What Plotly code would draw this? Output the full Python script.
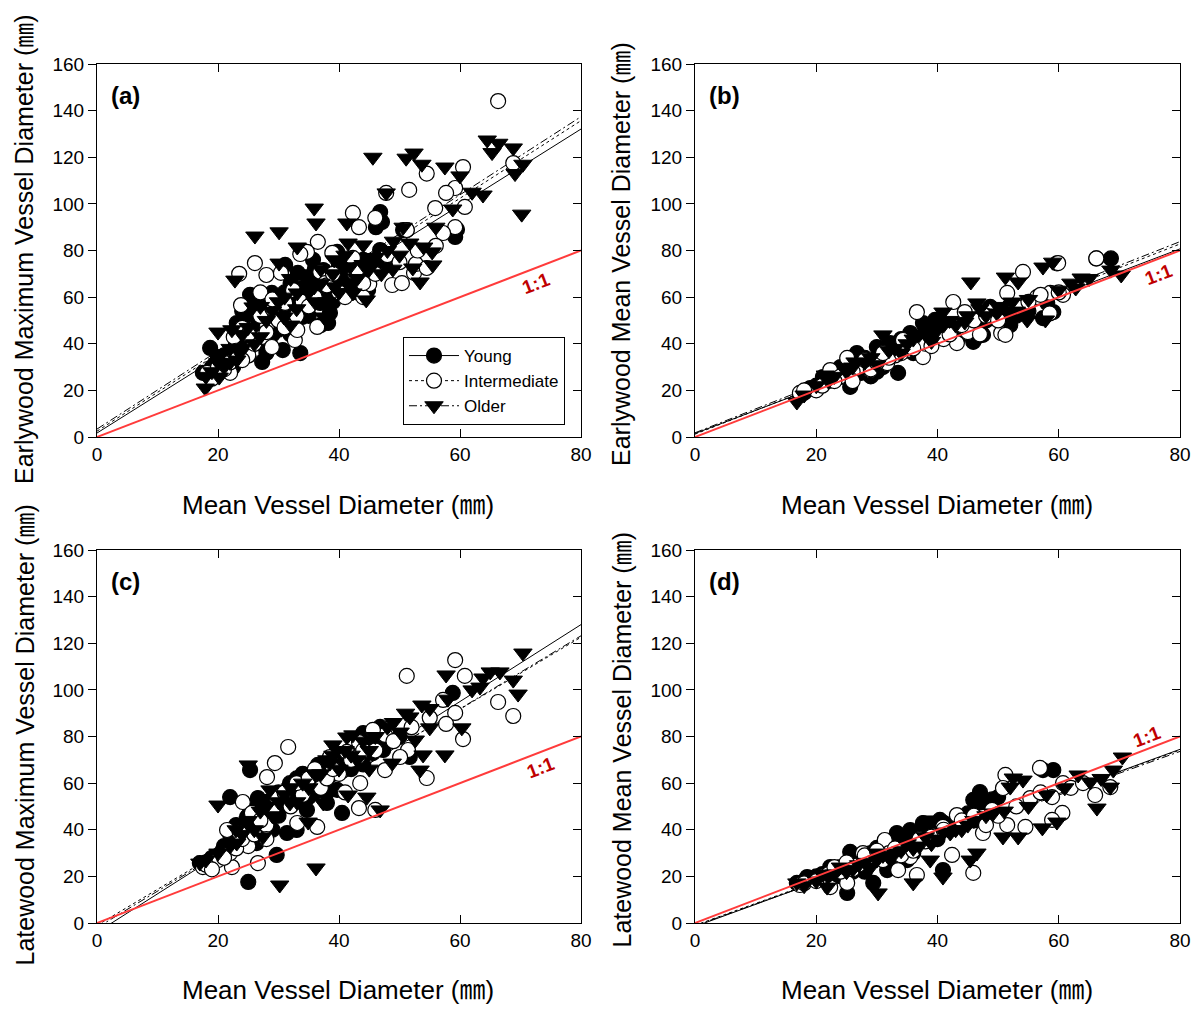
import plotly.graph_objects as go

# ---------------- DATA (mean vessel diameter, panel y-value) ----------------
groups = ["Young", "Intermediate", "Older"]
panel_ids = ["a", "b", "c", "d"]
panel_labels = ["(a)", "(b)", "(c)", "(d)"]
y_titles = [
    "Earlywood Maximum Vessel Diameter (㎜)",
    "Earlywood Mean Vessel Diameter (㎜)",
    "Latewood Maximum Vessel Diameter (㎜)",
    "Latewood Mean Vessel Diameter (㎜)",
]
x_title = "Mean Vessel Diameter (㎜)"
x_ticks = [0, 20, 40, 60, 80]
y_ticks = [0, 20, 40, 60, 80, 100, 120, 140, 160]

a_young = [(46.8,96.5),(47.1,92.2),(46.1,90),(59.2,85.8),(59.5,89),(50.6,88.8),(51.2,88.8),(46.8,80.2),
           (47.3,76),(45.5,73),(31.1,73.8),(35.7,76),(39.7,79.4),(37.4,71.6),(33.2,70.4),(35.2,61.8),
           (38.5,53.2),(38.2,48.9),(33.9,51.5),(30.7,37.3),(33.6,36),(27.3,32.2),(24,49.8),(25.3,61),
           (28.9,61.8),(31.4,53.2),(29.1,47.2),(24.8,45.9),(23.1,48.9),(18.7,38.2),(20,34.3),(22.5,30),
           (21.5,28.7),(17.5,27.5),(25.3,38.6),(31.9,58.8),(34.7,57.5),(36.9,57.5),(43.5,70.4),(44.8,63),
           (41.3,72.5),(26,52),(28,56),(30,60),(32,54),(34,64),(36,66),(29,44),(27,40),(25,35),(23,40),
           (21,35),(33,58),(38,62),(40,68),(42,64),(44,76),(48,74),(37,48),(39,66),
           (19,30),(20,28),(21,32),(22,36),(23,34),(24,42),(25,44),(26,46),(27,48),(28,52),(29,58),(30,54),
           (31,62),(32,66),(33,62),(34,56),(35,68),(36,72),(37,64),(38,70),(39,58),(40,74),(41,66),(42,70),
           (43,62),(45,68),(46,76),(28,36),(30,46),(32,44),(26,58),(24,54),(35,52),(37,60)]
a_inter = [(66.3,144.1),(60.5,115.8),(54.5,113),(68.8,117.5),(47.8,104.7),(51.6,106),(59.2,106.8),
           (57.7,104.7),(60.8,98.7),(55.9,98.2),(59.2,90),(57.2,87.5),(42.3,96.1),(43.3,90),(46,94),
           (51.2,88.8),(36.5,83.7),(34.7,79.4),(42.3,76.8),(38.9,79),(26.1,74.6),(23.5,70),(28,69.5),
           (30.4,70.4),(36.9,70.8),(37.7,66),(42.6,70.4),(45,65.6),(48.8,65.2),(50.4,66),(52.4,70.4),
           (52.7,74.2),(54.5,72.5),(33.6,78.5),(23.8,56.6),(22.6,42.9),(27.3,42.9),(28.9,38.6),(32.7,41.6),
           (36.4,47.2),(33.1,45.9),(18.2,27.5),(22,27.5),(24,46.8),(31.1,57.5),(32.4,63),(28.1,48),(20,30),
           (22,32),(25,35),(27,52),(29,55),(34,58),(40,62),(44,60),
           (19,25),(21,29),(23,37),(24,33),(26,40),(28,45),(30,50),(31,47),(33,52),(35,56),(36,60),(38,65),
           (39,70),(41,60),(43,72),(44,66),(46,70),(48,78),(50,75),(53,80),(56,82),(27,62),(25,44),(29,59)]
a_older = [(64.5,127.4),(66.4,126),(65.3,122),(68.8,124),(70.4,117),(69.1,113),(70.2,95.6),(63.8,103.8),
           (45.6,120),(51.1,119.6),(52.4,121.8),(53.7,117),(57.5,115.8),(60,112),(47.8,104.7),(58.8,97.8),
           (35.9,98.2),(36.2,91.8),(41.3,91.8),(30.1,88),(26.1,86.2),(33.1,81.5),(41.5,83.2),(44,82.4),
           (50.6,90),(51.7,83.2),(54,81.5),(55.4,79.4),(55.5,73.8),(53.4,66.5),(52.2,72.5),(48.9,72),
           (30.1,74.6),(22.8,67.3),(42.3,61.8),(44.5,58.8),(39.2,76),(41.8,73),(39.3,64.4),(35.9,64.4),
           (25.8,55.8),(20,45),(23.6,36),(20.2,25.7),(17.9,21),(33.1,61.8),(30.9,51.5),(37.5,51.5),(23.1,33),
           (27,43),(22.3,46),(30,58),(33,55),(35,62),(37,66),(28,50),(32,48),(26,40),(24,38),(22,32),(19,28),
           (21,30),(40,62),(43,68),(45,72),(47,70),(38,58),
           (18,26),(20,32),(22,38),(24,44),(25,47),(27,56),(29,54),(31,60),(32,68),(34,70),(36,58),(37,72),
           (39,70),(41,78),(42,66),(44,74),(46,77),(48,80),(49,84),(56,90),(62,105),(50,78)]

b_young = [(66.2,76.6),(68.6,76.6),(59.7,74.5),(59.1,53.6),(57.4,51),(46.5,42.9),(47.5,43.8),(45.9,40.8),
           (50.7,51.5),(52,56.6),(37.6,48.9),(35.5,44.6),(33.5,27.5),(30,38.6),(26.7,36),(25.6,21.5),
           (21.1,25.7),(18.5,20.2),(17.3,18),(23.9,25.7),(32.2,40.3),(40.9,45.9),(43.2,41.6),(39.6,50.2),
           (48.7,55.8),(58.1,57.5),(27.4,27.5),(20,22),(22,24),(24,27),(26,29),(28,31),(30,34),(32,36),
           (34,38),(36,40),(38,42),(40,44),(42,46),(44,46),(46,48),(48,50),(50,52),(29,26),(31,30),
           (18,19),(19,21),(21,23),(23,25),(25,27),(27,28),(29,32),(31,34),(33,37),(35,39),(37,41),(39,43),
           (41,46),(43,48),(45,50),(47,47),(49,52),(51,54),(53,52),(55,54),(24,30),(28,34),(34,42),(38,46),
           (36,36),(30,28),(52,48),(44,44)]
b_inter = [(59.9,74.6),(54.1,70.8),(36.6,53.6),(42.6,57.9),(51.5,61.8),(56.4,60),(58.6,61.8),(60.7,61),
           (50.5,44.6),(44.5,53.6),(43.2,40.3),(37.6,34.3),(31.7,31.7),(25.1,33.9),(22.3,28.7),(17.3,18.9),
           (28.9,28.7),(34.3,41.6),(49.2,54.5),(66.2,76.6),(35,37.3),(20,20),(24,26),(27,30),(29,29),
           (33,35),(38,40),(41,42),(45,45),(47,44),(51.2,43.8),(58.5,53),
           (18,20),(21,22),(23,24),(26,28),(28,33),(30,32),(32,34),(34,36),(36,38),(39,39),(42,44),(44,48),
           (46,50),(48,52),(50,50),(53,56),(55,58),(57,61),(60,62),(26,24),(31,36)]
b_older = [(70.3,69.5),(68.6,71.6),(63.7,68.2),(62.8,63.9),(57.4,72.9),(51.2,68.6),(53.3,66.5),(45.5,66.5),
           (40.9,53.6),(46.5,57.5),(49.8,53.2),(52.3,57.9),(54.8,50.2),(57.8,50.2),(31,43.8),(26.4,32.2),
           (21.5,26.6),(16.8,15),(38.3,47.2),(44.5,49.3),(22,24),(25,28),(28,32),(32,37),(35,40),(37,44),
           (40,46),(43,48),(48,52),(59,75),
           (18,18),(20,22),(23,26),(26,30),(29,34),(30,31),(33,38),(34,36),(36,42),(38,44),(39,41),(41,48),
           (42,50),(45,52),(47,55),(50,56),(53,54),(55,59),(60,63),(62,66),(65,68)]

c_young = [(25,17.6),(29.7,29.2),(58.8,98.7),(22,54),(26.6,53.6),(36.5,67.8),(40.5,47.2),(46.8,84.1),
           (51.7,71.2),(25.3,65.6),(31.9,60),(33,39.9),(31.4,38.6),(28.1,48.5),(24.8,45.5),(22.5,34.3),
           (18.7,27),(17,25.7),(34,51.5),(37.4,61.3),(40.7,68.6),(45.6,72.9),(47.3,74.2),(44,81.5),
           (39.7,57.1),(34.7,48.5),(28.6,41.2),(26.4,34.3),(20.8,31.3),(38,51.5),(24,40),(26,44),(27,38),
           (29,50),(31,52),(33,56),(35,58),(36,62),(38,56),(42,66),(44,68),(48,78),(50,80),(21,33),(23,36),
           (18,26),(19,28),(20,29),(21,30),(22,38),(23,42),(25,46),(27,46),(28,52),(30,56),(32,58),(33,62),
           (34,64),(36,56),(37,66),(39,64),(40,72),(41,70),(43,74),(45,78),(46,82),(47,80),(26,50),(30,46),
           (35,54),(29,40)]
c_inter = [(59.2,112.8),(51.2,106),(60.8,106),(66.3,94.8),(68.8,88.8),(60.5,78.9),(57.2,95.7),(59.2,90.1),
           (57.7,85.4),(54.5,62.2),(51.4,74.2),(47.6,80.7),(47.6,65.6),(50.1,71.2),(43.3,77.6),(43.3,49.3),
           (46,48.5),(41.3,73.4),(43.1,71.2),(31.6,75.5),(29.4,68.6),(28.1,62.6),(24.1,51.9),(21.5,39.9),
           (23.6,38.6),(26.6,25.7),(22.3,24),(17.5,24),(33.1,42.9),(29.7,54),(35.2,60),(36.4,41.2),(43.5,60),
           (45.6,82.8),(38.5,71.2),(25.6,47.2),(20,27),(22,30),(25,33),(28,42),(32,50),(34,55),(37,58),(40,64),
           (18,25),(19,23),(21,28),(23,32),(24,36),(26,38),(27,44),(29,48),(31,56),(33,60),(35,62),(36,66),
           (38,62),(39,66),(42,70),(44,74),(46,74),(49,78),(52,84),(55,88),(28,36),(41,56)]
c_older = [(70.4,115.8),(68.8,104.2),(69.6,98.2),(65,107.7),(66.6,107.7),(63.8,105.1),(63.3,101.2),
           (57.7,106.4),(60.3,83.7),(57.5,72.1),(53.9,72.1),(53.4,65.6),(52.6,78.5),(50.1,81.9),(53.7,93.5),
           (51.7,88.4),(55,83.7),(39,76.4),(41.3,79.8),(42.3,80.7),(38.5,68.6),(41.5,54.9),(44.6,54),
           (46.8,48.5),(48.8,68.6),(25,67.8),(20,50.6),(36.2,23.6),(30.2,16.3),(34.9,43.3),(28.6,57.1),
           (27.4,36.9),(17,25.7),(23.1,34.3),(31.9,51.5),(37.4,51.5),(24,38),(26,40),(29,46),(31,55),(33,52),
           (35,58),(37,64),(40,66),(43,70),(45,74),
           (18,27),(20,30),(22,33),(23,40),(25,44),(27,48),(28,50),(30,52),(32,58),(34,60),(36,64),(38,70),
           (39,72),(41,74),(42,72),(44,78),(46,80),(48,84),(49,86),(51,90),(55,92),(58,96),(62,100),(45,66)]

d_young = [(57.4,65.6),(59.1,65.6),(47,56.2),(45.9,52.8),(40.9,22.7),(25.1,12.9),(29.4,17.2),(33.3,38.6),
           (30,32.2),(25.6,30.5),(22.3,24),(18.5,19.7),(16.8,17.2),(35.5,39.9),(37.6,42.9),(40.4,44.2),
           (44.2,45.5),(47.5,51.5),(31.7,22.7),(27.7,24),(35,27),(20,20),(22,22),(24,24),(26,26),(28,27),
           (30,29),(32,31),(34,33),(36,35),(38,36),(42,40),(44,42),(46,44),(48,52),(50,54),
           (18,18),(19,19),(21,21),(23,23),(25,24),(27,28),(29,30),(31,30),(33,34),(35,37),(37,38),(39,40),
           (41,43),(43,44),(45,47),(47,50),(49,53),(24,20),(28,22),(32,26),(26,22),(40,36),(36,30)]
d_inter = [(56.9,66.5),(51.2,63.5),(50.8,57.9),(55.3,53.6),(58.9,54),(60.7,60),(66,54.9),(68.5,58.3),
           (60.6,47.2),(58.9,44.2),(54.5,41.2),(51.5,42),(47.5,38.6),(43.2,46.3),(42.4,29.2),(45.9,21.5),
           (36.6,20.6),(33.5,22.7),(35.5,28.3),(31.3,35.6),(27.7,30),(25.1,17.2),(22.3,15.4),(17.3,16.3),
           (47.5,45.5),(49,48.5),(40.9,41.2),(21,20),(24,22),(27,25),(29,28),(32,30),(35,33),(38,35),(40,38),
           (18,17),(20,18),(22,21),(23,24),(25,26),(26,23),(28,29),(30,31),(31,27),(33,32),(34,29),(36,31),
           (37,36),(39,37),(41,40),(44,44),(46,46),(48,42),(50,46),(53,50),(57,56),(62,58),(64,60)]
d_older = [(70.5,71.2),(69,65.6),(68.5,58.3),(66.3,49.3),(65.2,60.5),(63.2,63.5),(54.1,61.3),(52.5,62.2),
           (52,58.3),(49.2,47.2),(50.8,36.9),(53.3,36.9),(57.3,40.8),(59.7,43.3),(46.5,30),(45.4,27),
           (38.8,44.2),(40.9,19.7),(36,17.2),(30.2,12.9),(21.8,15.4),(16.8,17.2),(38.8,27),(30,27),(34.3,35.6),
           (42.1,38.6),(22,20),(25,22),(27,25),(31,29),(33,30),(36,32),(39,34),(43,40),(45,42),
           (18,16),(20,18),(21,21),(23,21),(24,24),(26,23),(28,26),(29,24),(30,30),(32,28),(34,31),(35,34),
           (37,33),(38,37),(40,36),(41,39),(44,40),(46,44),(48,46),(51,48),(55,50),(58,55),(61,58),(67,62)]

# regression fits (intercept, slope) per panel: Young, Intermediate, Older
fit_a = [(1.7, 1.63), (2.5, 1.665), (3.4, 1.675)]
fit_b = [(1.5, 0.99), (1.2, 1.02), (1.8, 1.025)]
fit_c = [(-4.0, 1.65), (-1.0, 1.545), (-2.0, 1.565)]
fit_d = [(-1.5, 0.95), (-1.0, 0.94), (-1.2, 0.935)]
fit_x = [0, 80]
one_to_one = [0, 80]
label_11_pos = [(72.5, 66), (76.5, 69.5), (73.4, 66.5), (74.6, 80)]

panel_data = [
    (a_young, a_inter, a_older, fit_a),
    (b_young, b_inter, b_older, fit_b),
    (c_young, c_inter, c_older, fit_c),
    (d_young, d_inter, d_older, fit_d),
]

# ---------------- STYLE / LAYOUT ----------------
W, H = 1196, 1009
FONT = "Liberation Sans, Arial, Noto Sans CJK JP, sans-serif"
x_dom_px = [(97, 581), (695, 1180), (97, 581), (695, 1180)]
y_dom_px = [(64, 437), (64, 437), (550, 923), (550, 923)]
xtitle_px = [(338, 505), (937, 505), (338, 990), (937, 990)]   # centre
ytitle_px = [(24, 486), (621, 468), (24, 968), (621, 950)]      # centre-x, bottom-y
legend_px = (403, 337)


def px_x(v):
    return v / W


def px_y(v):
    return 1 - v / H


marker_styles = [
    dict(symbol="circle", size=15, color="black", line=dict(color="black", width=1.2)),
    dict(symbol="circle", size=15, color="white", line=dict(color="black", width=1.2)),
    dict(symbol="triangle-down", size=16, color="black", line=dict(color="black", width=1)),
]
line_dash = ["solid", "dot", "8px,3px,2px,3px"]

fig = go.Figure()
layout = dict(
    width=W, height=H, margin=dict(l=0, r=0, t=0, b=0, autoexpand=False),
    paper_bgcolor="white", plot_bgcolor="white",
    font=dict(family=FONT, color="black"),
    showlegend=True,
    annotations=[],
)

for i, pid in enumerate(panel_ids):
    xa = "x" if i == 0 else f"x{i+1}"
    ya = "y" if i == 0 else f"y{i+1}"
    yr = f"y{i+5}"
    young, inter, older, fits = panel_data[i]
    series = [young, inter, older]

    for g, (b0, b1) in enumerate(fits):
        fig.add_trace(go.Scatter(
            x=fit_x, y=[b0 + b1 * v for v in fit_x], mode="lines",
            line=dict(color="black", width=1, dash=line_dash[g]),
            xaxis=xa, yaxis=ya, showlegend=False, hoverinfo="skip"))
    for g, pts in enumerate(series):
        fig.add_trace(go.Scatter(
            x=[p[0] for p in pts], y=[p[1] for p in pts], mode="markers",
            marker=marker_styles[g], xaxis=xa, yaxis=ya, showlegend=False,
            name=groups[g]))
    fig.add_trace(go.Scatter(
        x=one_to_one, y=one_to_one, mode="lines",
        line=dict(color="#ff3b3b", width=2), xaxis=xa, yaxis=ya,
        showlegend=False, hoverinfo="skip"))
    fig.add_trace(go.Scatter(x=[None], y=[None], xaxis=xa, yaxis=yr,
                             showlegend=False, hoverinfo="skip"))

    xd = [px_x(x_dom_px[i][0]), px_x(x_dom_px[i][1])]
    yd = [px_y(y_dom_px[i][1]), px_y(y_dom_px[i][0])]
    xkey = "xaxis" if i == 0 else f"xaxis{i+1}"
    ykey = "yaxis" if i == 0 else f"yaxis{i+1}"
    layout[xkey] = dict(
        domain=xd, anchor=ya, range=[0, 80], tickvals=x_ticks, automargin=False,
        ticks="inside", ticklen=8, tickwidth=1, tickcolor="black",
        mirror="ticks", showline=True, linecolor="black", linewidth=1,
        showgrid=False, zeroline=False, ticklabeloverflow="allow",
        tickfont=dict(size=19, family=FONT),
    )
    layout[ykey] = dict(
        domain=yd, anchor=xa, range=[0, 160], tickvals=y_ticks, automargin=False,
        ticks="outside", ticklen=8, tickwidth=1, tickcolor="black",
        mirror=True, showline=True, linecolor="black", linewidth=1,
        showgrid=False, zeroline=False, ticklabeloverflow="allow",
        tickfont=dict(size=19, family=FONT),
    )
    layout[f"yaxis{i+5}"] = dict(
        overlaying=ya, side="right", anchor=xa, range=[0, 160], tickvals=y_ticks,
        ticks="inside", ticklen=8, tickwidth=1, tickcolor="black", automargin=False,
        showticklabels=False, showline=False, showgrid=False, zeroline=False,
    )

    layout["annotations"].append(dict(
        text=x_title, xref="paper", yref="paper",
        x=px_x(xtitle_px[i][0]), y=px_y(xtitle_px[i][1]), xanchor="center", yanchor="middle",
        showarrow=False, font=dict(size=26, family=FONT, color="black")))
    layout["annotations"].append(dict(
        text=y_titles[i], xref="paper", yref="paper", textangle=-90,
        x=px_x(ytitle_px[i][0]), y=px_y(ytitle_px[i][1]), xanchor="center", yanchor="bottom",
        showarrow=False, font=dict(size=25, family=FONT, color="black")))
    layout["annotations"].append(dict(
        text=panel_labels[i], xref=f"{xa} domain", yref=f"{ya} domain",
        x=0.025, y=0.915, xanchor="left", yanchor="middle", showarrow=False,
        font=dict(size=24, family=FONT, weight="bold", color="black")))
    lx, ly = label_11_pos[i]
    layout["annotations"].append(dict(
        text="1:1", xref=xa, yref=ya, x=lx, y=ly, showarrow=False,
        textangle=-21, font=dict(size=19, family=FONT, weight="bold", color="#c00000")))

for g in range(3):
    fig.add_trace(go.Scatter(
        x=[None], y=[None], mode="lines+markers", name=groups[g],
        marker=marker_styles[g], line=dict(color="black", width=1, dash=line_dash[g]),
        xaxis="x", yaxis="y"))

layout["legend"] = dict(
    x=px_x(legend_px[0]), y=px_y(legend_px[1]), xanchor="left", yanchor="top",
    bgcolor="white", bordercolor="black", borderwidth=1,
    font=dict(size=17, family=FONT), tracegroupgap=0, itemwidth=50,
)

fig.update_layout(**layout)
fig.write_html("out.html", config={"displayModeBar": False},
               post_script="document.body.style.margin='0';")
